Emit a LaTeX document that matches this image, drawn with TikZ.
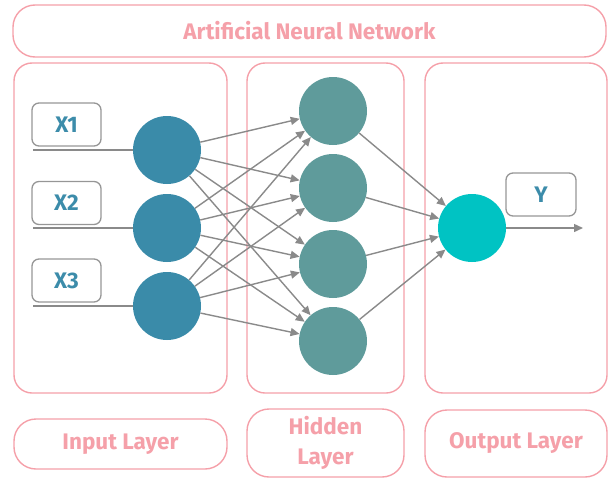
\documentclass[tikz,border=0pt]{standalone}
\usepackage{fontspec}
\setmainfont{Fira Sans}
\usetikzlibrary{arrows.meta}
\definecolor{pinkc}{HTML}{F5A0A9}
\definecolor{inc}{HTML}{3A8BA9}
\definecolor{hidc}{HTML}{5F9B9B}
\definecolor{outc}{HTML}{00C3C3}
\definecolor{edgec}{HTML}{8A8A8A}
\definecolor{lblc}{HTML}{3C8CAA}
\begin{document}
\begin{tikzpicture}[x=1pt,y=-1pt,
  panel/.style={draw=pinkc, line width=1.4pt, rounded corners=18pt, inner sep=0pt},
  tag/.style={panel, text=pinkc, font=\bfseries\fontsize{22.5}{26}\selectfont, align=center, rounded corners=22pt},
  neuron/.style={circle, minimum size=68pt, inner sep=0pt, draw=none},
  lbl/.style={draw=edgec!90, line width=1.3pt, rounded corners=7pt, minimum width=69pt, minimum height=43pt, inner sep=0pt, text=lblc, font=\bfseries\fontsize{22.5}{24}\selectfont},
  edge/.style={draw=edgec, line width=1.4pt, -{Triangle[length=9pt,width=8pt]}},
  feed/.style={draw=edgec, line width=1.4pt}
]
\useasboundingbox (0,0) rectangle (610,479);
% panels
\node[tag, minimum width=593pt, minimum height=52pt] (title) at (309.5,31) {Artificial Neural Network};
\node[panel, minimum width=213pt, minimum height=330pt] (pin) at (120.5,228) {};
\node[panel, minimum width=157pt, minimum height=330pt] (phid) at (325.5,228) {};
\node[panel, minimum width=182pt, minimum height=330pt] (pout) at (516,228) {};
\node[tag, minimum width=213pt, minimum height=50pt] (tin) at (120.5,444) {Input Layer};
\node[tag, minimum width=157pt, minimum height=68pt, font=\bfseries\fontsize{22.5}{30}\selectfont] (thid) at (325.5,443) {Hidden\\Layer};
\node[tag, minimum width=182pt, minimum height=67pt] (tout) at (516,443.5) {Output Layer};
% neurons
\node[neuron, fill=inc] (i1) at (167,150) {};
\node[neuron, fill=inc] (i2) at (167,228) {};
\node[neuron, fill=inc] (i3) at (167,306) {};
\node[neuron, fill=hidc] (h1) at (333,111) {};
\node[neuron, fill=hidc] (h2) at (333,188) {};
\node[neuron, fill=hidc] (h3) at (333,264) {};
\node[neuron, fill=hidc] (h4) at (333,341) {};
\node[neuron, fill=outc] (o) at (472,228) {};
% labels
\node[lbl] (x1) at (66.5,124.5) {X1};
\node[lbl] (x2) at (66.5,203) {X2};
\node[lbl] (x3) at (66.5,280.5) {X3};
\node[lbl, minimum width=70pt] (y) at (541,194.5) {Y};
% inputs
\coordinate (a1) at (33,150);
\coordinate (a2) at (33,228);
\coordinate (a3) at (33,306);
\coordinate (yend) at (583,228);
\draw[feed] (a1) -- (i1);
\draw[feed] (a2) -- (i2);
\draw[feed] (a3) -- (i3);
% edges
\foreach \i in {1,2,3}{
  \foreach \h in {1,2,3,4}{
    \draw[edge] (i\i) -- (h\h);
  }
}
\foreach \h in {1,2,3,4}{
  \draw[edge] (h\h) -- (o);
}
\draw[edge] (o) -- (yend);
\end{tikzpicture}
\end{document}
